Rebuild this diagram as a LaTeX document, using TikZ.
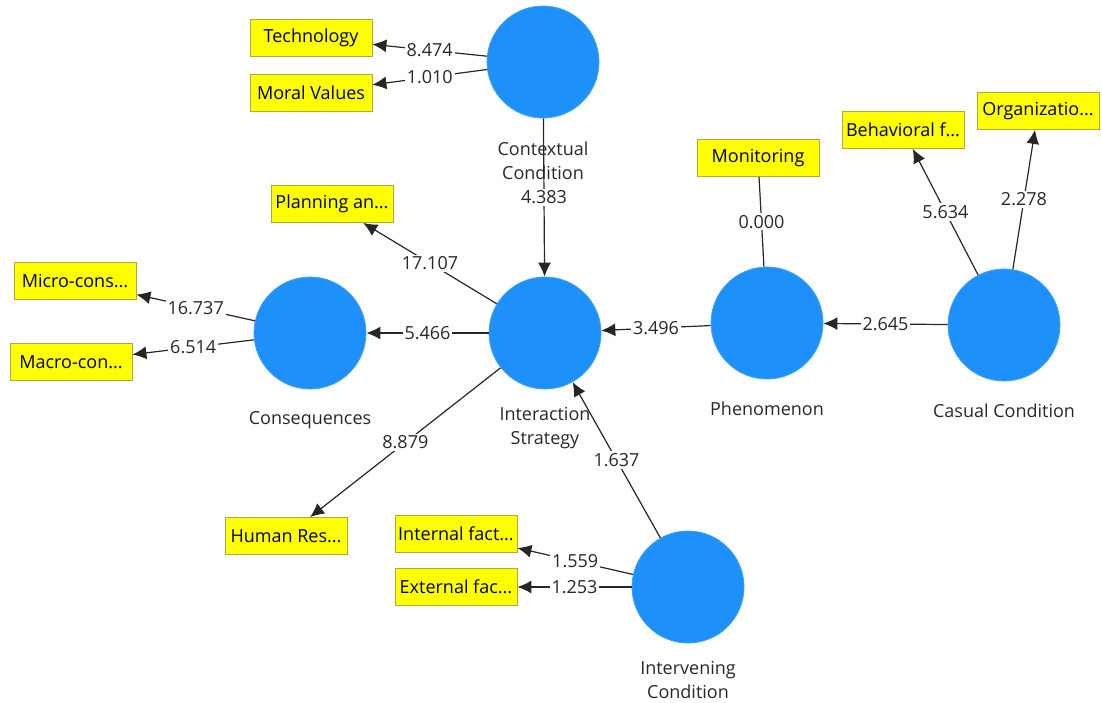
\documentclass[tikz,border=0pt]{standalone}
\usepackage{fontspec}
\setmainfont{Open Sans}
\usetikzlibrary{positioning,arrows.meta}
\definecolor{lvblue}{RGB}{30,144,250}
\definecolor{mvyellow}{RGB}{255,255,0}
\definecolor{mvborder}{RGB}{175,170,60}
\definecolor{txtgray}{RGB}{40,40,40}
\tikzset{
  lv/.style={circle,fill=lvblue,draw=lvblue!85!white,minimum size=56pt,inner sep=0pt},
  mv/.style={rectangle,draw=mvborder,fill=mvyellow,minimum width=61pt,
    minimum height=18.5pt,inner sep=1pt,font=\fontsize{9}{11}\selectfont},
  lvname/.style={align=center,inner sep=0pt,text=txtgray,
    font=\fontsize{9}{12}\selectfont},
  link/.style={draw=black!85,line width=0.6pt,-{Latex[length=7pt,width=6.5pt]}},
  plainlink/.style={draw=black!85,line width=0.6pt},
  val/.style={fill=white,inner sep=1pt,text=txtgray,font=\fontsize{9}{11}\selectfont}
}
\begin{document}
\begin{tikzpicture}[x=0.5pt,y=-0.5pt]
  \useasboundingbox (0,0) rectangle (1102,702);

  % constructs
  \node[lv] (ctx) at (543,62) {};
  \node[lv] (strat) at (545,333) {};
  \node[lv] (cons) at (310,333) {};
  \node[lv] (phen) at (767,323) {};
  \node[lv] (caus) at (1004,325) {};
  \node[lv] (interv) at (688,587) {};

  \node[lvname] [below=21pt of ctx.south,anchor=center] {Contextual\\Condition};
  \node[lvname] [below=19.5pt of strat.south,anchor=center] {Interaction\\Strategy};
  \node[lvname] [below=15.5pt of cons.south,anchor=center] {Consequences};
  \node[lvname] [below=14.5pt of phen.south,anchor=center] {Phenomenon};
  \node[lvname] [below=14.5pt of caus.south,anchor=center] {Casual Condition};
  \node[lvname] [below=18.5pt of interv.south,anchor=center] {Intervening\\Condition};

  % indicators
  \node[mv] (tech) at (311,38) {Technology};
  \node[mv] (moral) at (311,93) {Moral Values};
  \node[mv] (plan) at (332,204) {Planning an...};
  \node[mv] (micro) at (75,281) {Micro-cons...};
  \node[mv] (macro) at (71,362) {Macro-con...};
  \node[mv] (human) at (286,536) {Human Res...};
  \node[mv] (intf) at (456,534) {Internal fact...};
  \node[mv] (extf) at (456,587) {External fac...};
  \node[mv] (monit) at (758,158) {Monitoring};
  \node[mv] (behav) at (903,130) {Behavioral f...};
  \node[mv] (organ) at (1038,111) {Organizatio...};

  % paths
  \draw[link] (ctx) -- node[val] {4.383} (strat);
  \draw[link] (strat) -- node[val] {5.466} (cons);
  \draw[link] (phen) -- node[val] {3.496} (strat);
  \draw[link] (caus) -- node[val] {2.645} (phen);
  \draw[link] (interv) -- node[val] {1.637} (strat);

  % loadings
  \draw[link] (ctx) -- node[val] {8.474} (tech);
  \draw[link] (ctx) -- node[val] {1.010} (moral);
  \draw[link] (strat) -- node[val] {17.107} (plan);
  \draw[link] (strat) -- node[val] {8.879} (human);
  \draw[link] (cons) -- node[val] {16.737} (micro);
  \draw[link] (cons) -- node[val] {6.514} (macro);
  \draw[link] (interv) -- node[val] {1.559} (intf);
  \draw[link] (interv) -- node[val] {1.253} (extf);
  \draw[plainlink] (phen) -- node[val] {0.000} (monit);
  \draw[link] (caus) -- node[val] {5.634} (behav);
  \draw[link] (caus) -- node[val] {2.278} (organ);
\end{tikzpicture}
\end{document}
